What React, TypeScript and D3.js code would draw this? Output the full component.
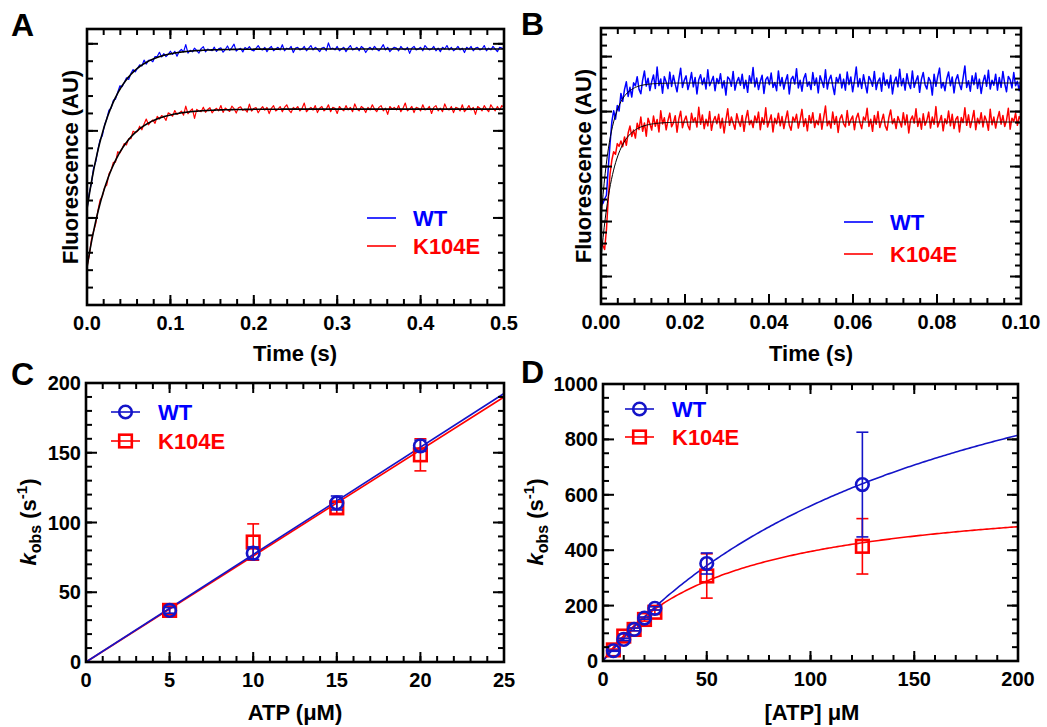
import React from "react";
import * as d3 from "d3";

const FONT = "'Liberation Sans', Arial, Helvetica, sans-serif";
const BLUE = "#0000ff";
const DBLUE = "#1414c8";
const RED = "#ff0000";

// ---- panel A: stopped-flow traces, 0-0.5 s (residuals x100 around single-exponential fits)
const aXTicks = [0, 0.1, 0.2, 0.3, 0.4, 0.5];
const aYMajor = [0, 1, 2, 3];
const aFitWT = { end: 2.94, amp: 1.84, k: 35 };
const aFitK104E = { end: 2.25, amp: 1.82, k: 33 };
const aResidWT = [
  0, 2, -1, 3, -2, 1, 2, -3, 1, 0, 3, -1, 2, -2, 1, 4, -1, 0, 2, -3,
  1, 3, -2, 0, 2, -1, 4, -2, 1, 0, -3, 2, 1, 5, -1, 2, -2, 0, 3, -1,
  2, -4, 1, 3, 0, 8, -2, 1, -1, 3, 0, -3, 2, 4, -2, 1, 0, -1, 3, -2,
  1, 2, -3, 0, 4, -1, 2, 6, -2, 0, 1, -3, 2, 0, 3, -1, -2, 1, 4, 0,
  -1, 2, -3, 1, 3, -2, 0, 2, -1, 5, -2, 1, 0, 3, -4, 1, 2, -1, 0, 3,
  -2, 1, 4, -1, 2, 0, -3, 1, 2, -2, 7, 0, 1, -1, 3, -2, 0, 2, -3, 1,
  4, -1, 0, 2, -2, 3, 1, -4, 0, 2, -1, 3, 0, -2, 1, 5, -1, 2, -3, 0,
  2, 1, -2, 3, 0, -1, 2, -5, 1, 3, -1, 0, 2, -2, 4, 1, -1, 0, 3, -2,
  1, -3, 2, 0, 4, -1, 2, -2, 0, 3, -1, 1, -4, 2, 0, 3, -2, 1, 2, -1,
  0, 4, -2, 1, -1, 3, 0, -3, 2, 1, 0,
];
const aResidK104E = [
  1, -2, 3, 0, -3, 2, 4, -1, 1, -4, 2, 0, 3, -2, 5, -1, 0, 2, -3, 1,
  -2, 4, 0, -1, 3, -3, 2, 6, -2, 0, 1, -4, 3, -1, 2, 0, -5, 3, 1, -2,
  4, -1, 0, 2, -3, 7, -2, 1, 3, -8, 2, 0, -1, 4, -2, 1, 3, -3, 0, 2,
  -1, 5, -3, 2, 0, -2, 4, 1, -4, 2, 3, -1, 0, -3, 6, -2, 1, 2, -4, 0,
  3, -1, 2, -5, 1, 4, -2, 0, 3, -3, 2, 5, -1, -4, 2, 0, 3, -2, 1, 7,
  -3, 0, 2, -1, 4, -4, 1, 3, -2, 0, 5, -3, 2, 1, -5, 3, 0, -2, 4, -1,
  2, -3, 6, 0, -2, 3, 1, -4, 2, -1, 5, 0, -3, 2, 4, -2, 1, -6, 3, 0,
  2, -1, 4, -3, 1, 7, -2, 0, 3, -4, 2, 1, -2, 5, -1, 0, 3, -5, 2, 4,
  -2, 1, -3, 6, 0, -1, 3, -4, 2, 1, -2, 5, -3, 0, 4, -1, 2, -6, 3, 1,
  -2, 4, 0, -3, 5, 1, -2, 3, -1, 4, 2,
];

// ---- panel B: same, 0-0.1 s
const bXTicks = [0, 0.02, 0.04, 0.06, 0.08, 0.1];
const bYMajor = [1, 2, 3, 4, 5];
const bFitWT = { end: 4.52, amp: 2.5, k: 420 };
const bFitK104E = { end: 3.81, amp: 2.5, k: 350 };
const bResidWT = [
  32, -11, -37, -59, -34, -9, 14, 20, -7, 8, -10, 15, -5, 12, 22, -8, 6, -14, 10, 3,
  18, -6, -15, 9, 25, -3, 11, -12, 4, 16, -9, 30, -4, 8, -18, 12, 2, -10, 20, -6,
  14, -2, -16, 7, 27, -8, 5, 13, -12, 1, 19, -7, 10, -20, 6, 15, -3, 9, -11, 24,
  -5, 3, 12, -14, 8, -1, 17, -9, 4, -22, 11, 7, -6, 21, -13, 2, 10, -4, 16, -10,
  5, -17, 13, 0, 28, -7, 9, -12, 3, 14, -19, 6, 11, -3, 18, -8, 1, -14, 22, -5,
  10, -11, 4, 15, -20, 7, 12, -2, 26, -9, 5, -15, 8, 17, -6, 2, -12, 19, -4, 9,
  -18, 13, 3, -8, 24, -11, 6, 14, -5, -21, 10, 1, 16, -9, 7, -13, 20, -3, 11, -16,
  4, 29, -7, 8, -10, 15, -2, -18, 12, 5, -6, 21, -12, 3, 9, -15, 18, -4, 6, -9,
  14, -20, 2, 11, -7, 25, -5, 8, -13, 17, -1, -10, 22, -8, 4, 13, -17, 7, 19, -3,
  -11, 10, 3, -22, 16, -6, 12, 27, -9, 1, -14, 8, 20, -5, 11, -18, 6, 15, -2, -12,
  9, 31, -8, 4, -15, 13, -3, 18, -10, 7, -19, 2, 14, -6, 23, -11, 5, -4, 16, -13,
  10, -8, 21, -1, -16, 12, 6, -9, 19, -5, 3, -14, 9,
];
const bResidK104E = [
  39, -9, -47, -37, -3, 23, 32, 33, 16, 25, 11, 13, -4, 8, -12, 6, 15, -7, 2, -15,
  10, -3, 18, -9, 5, -20, 12, 1, -11, 14, -5, 7, -16, 22, -2, 9, -13, 4, 17, -8,
  -1, 12, -18, 6, 20, -10, 3, 11, -6, -14, 16, 0, 8, -9, 27, -4, 13, -12, 5, -7,
  19, -15, 2, 10, -3, 14, -11, 7, -20, 4, 24, -6, 9, -2, -13, 15, 1, -8, 12, -17,
  6, 21, -5, 3, -10, 11, -1, 18, -14, 8, -4, 26, -9, 2, 13, -18, 7, -3, 16, -7,
  10, -12, 5, 20, -6, -15, 9, 1, 14, -11, 4, 23, -8, 6, -16, 12, -2, 17, -10, 3,
  -5, 15, -13, 8, 29, -7, 2, -11, 18, -4, 10, -19, 6, 13, -3, -9, 21, -6, 4, 11,
  -14, 7, 16, -1, -12, 9, 3, 25, -8, 5, -17, 12, -4, 19, -10, 2, 14, -7, -15, 8,
  22, -3, 6, -12, 10, 1, -9, 17, -5, 13, -20, 4, 11, -2, 24, -8, 7, -13, 15, -6,
  3, 18, -11, 9, -4, 28, -9, 1, 12, -16, 6, -3, 20, -7, 14, -12, 5, 10, -18, 8,
  -1, 26, -6, 13, -10, 4, 21, -14, 7, -3, 17, -9, 11, 2, -15, 23, -5, 9, -11, 6,
  19, -4, 12, -8, 3, 25, -13, 7, 1, 16, -6, 10, 4,
];

// ---- panel C: kobs vs ATP, linear fits
const cXTicks = [0, 5, 10, 15, 20, 25];
const cYTicks = [0, 50, 100, 150, 200];
const cATP = [5, 10, 15, 20];
const cWT = [37, 78, 114, 155];
const cWTErr = [2, 4.5, 5, 4];
const cK104E = [37, 86, 110.5, 148.5];
const cK104EErr = [3, 13, 4, 11.5];
const cSlopeWT = 7.7;
const cSlopeK104E = 7.6;

// ---- panel D: kobs vs [ATP], hyperbolic fits
const dXTicks = [0, 50, 100, 150, 200];
const dYTicks = [0, 200, 400, 600, 800, 1000];
const dATP = [5, 10, 15, 20, 25, 50, 125];
const dWT = [37, 78, 114, 155, 190, 352, 637];
const dWTErr = [2, 4, 5, 4, 6, 38, 189];
const dK104E = [40, 90, 114, 150, 176, 307, 414];
const dK104EErr = [3, 8, 5, 6, 8, 80, 100];
const dFitWT = { vmax: 1498, km: 167.6 };
const dFitK104E = { vmax: 627, km: 58.6 };

const minors = (lo: number, hi: number, step: number) =>
  d3.range(Math.ceil(lo / step - 1e-6), Math.floor(hi / step + 1e-6) + 1).map((i) => i * step);

const Frame = ({ x, y, xMajor, xMinor, yMajor, yMinor, xFmt, yFmt }: any) => {
  const [l, r] = x.range();
  const [b, t] = y.range();
  const els: any[] = [];
  const tick = (key: string, x1: number, y1: number, x2: number, y2: number) =>
    els.push(<line key={key} x1={x1} y1={y1} x2={x2} y2={y2} stroke="#000" strokeWidth={2} />);
  xMinor.forEach((v: number, i: number) => {
    const p = x(v);
    tick("xm" + i, p, b, p, b - 6);
    tick("xmt" + i, p, t, p, t + 6);
  });
  xMajor.forEach((v: number, i: number) => {
    const p = x(v);
    tick("xM" + i, p, b, p, b - 10);
    tick("xMt" + i, p, t, p, t + 10);
  });
  yMinor.forEach((v: number, i: number) => {
    const p = y(v);
    tick("ym" + i, l, p, l + 6, p);
    tick("ymr" + i, r, p, r - 6, p);
  });
  yMajor.forEach((v: number, i: number) => {
    const p = y(v);
    tick("yM" + i, l, p, l + 11, p);
    tick("yMr" + i, r, p, r - 11, p);
  });
  return (
    <g>
      {els}
      <rect x={l} y={t} width={r - l} height={b - t} fill="none" stroke="#000" strokeWidth={2.6} />
      <g fontFamily={FONT} fontWeight="bold" fontSize={20}>
        {xMajor.map((v: number) => (
          <text key={"xl" + v} x={x(v)} y={b + 25} textAnchor="middle">
            {xFmt(v)}
          </text>
        ))}
        {yFmt &&
          yMajor.map((v: number) => (
            <text key={"yl" + v} x={l - 5} y={y(v) + 7} textAnchor="end">
              {yFmt(v)}
            </text>
          ))}
      </g>
    </g>
  );
};

const Letter = ({ x, y, s }: any) => (
  <text x={x} y={y} fontFamily={FONT} fontWeight="bold" fontSize={32}>
    {s}
  </text>
);

const YTitle = ({ x, y, children }: any) => (
  <text
    transform={`translate(${x},${y}) rotate(-90)`}
    textAnchor="middle"
    fontFamily={FONT}
    fontWeight="bold"
    fontSize={22}
  >
    {children}
  </text>
);

const XTitle = ({ x, y, children }: any) => (
  <text x={x} y={y} textAnchor="middle" fontFamily={FONT} fontWeight="bold" fontSize={22}>
    {children}
  </text>
);

const Kobs = () => (
  <>
    <tspan fontStyle="italic">k</tspan>
    <tspan fontSize={16} dy={5}>obs</tspan>
    <tspan dy={-5}> (s</tspan>
    <tspan fontSize={15} dy={-9}>-1</tspan>
    <tspan dy={9}>)</tspan>
  </>
);

const expFit = (f: any) => (t: number) => f.end - f.amp * Math.exp(-f.k * t);
const traceFrom = (resid: number[], f: any, T: number) =>
  resid.map((r, i) => {
    const t = (i * T) / (resid.length - 1);
    return [t, expFit(f)(t) + r / 100];
  });

const TracePanel = ({ left, right, top, bottom, T, xTicks, xMinorStep, yMajor, yTop, yBottom, fits, resids, fmt, fitWidth, traceWidth, legend }: any) => {
  const x = d3.scaleLinear().domain([0, T]).range([left, right]);
  const y = d3.scaleLinear().domain([yBottom, yTop]).range([bottom, top]);
  const line = d3
    .line<number[]>()
    .x((d) => x(d[0]))
    .y((d) => y(d[1]));
  const grid = d3.range(0, 401).map((i) => (i * T) / 400);
  const colors = [BLUE, RED];
  return (
    <g>
      {resids.map((res: number[], i: number) => (
        <path key={"tr" + i} d={line(traceFrom(res, fits[i], T)) || ""} fill="none" stroke={colors[i]} strokeWidth={traceWidth} strokeLinejoin="round" />
      ))}
      {fits.map((f: any, i: number) => (
        <path key={"fit" + i} d={line(grid.map((t) => [t, expFit(f)(t)])) || ""} fill="none" stroke="#000" strokeWidth={fitWidth} />
      ))}
      <Frame x={x} y={y} xMajor={xTicks} xMinor={minors(0, T, xMinorStep)} yMajor={yMajor} yMinor={minors(yBottom, yTop, 0.2)} xFmt={fmt} />
      {["WT", "K104E"].map((s, i) => (
        <g key={s}>
          <line x1={legend.x} x2={legend.x + 29} y1={legend.y + i * legend.dy} y2={legend.y + i * legend.dy} stroke={colors[i]} strokeWidth={1.6} />
          <text x={legend.x + 46} y={legend.y + i * legend.dy + 8} fill={colors[i]} fontFamily={FONT} fontWeight="bold" fontSize={22}>
            {s}
          </text>
        </g>
      ))}
    </g>
  );
};

const Marker = ({ kind, cx, cy, color }: any) =>
  kind === "circle" ? (
    <circle cx={cx} cy={cy} r={6.3} fill="none" stroke={color} strokeWidth={2.6} />
  ) : (
    <rect x={cx - 6.3} y={cy - 6.3} width={12.6} height={12.6} fill="none" stroke={color} strokeWidth={2.6} />
  );

const Series = ({ x, y, xs, ys, errs, color, kind }: any) => (
  <g>
    {xs.map((v: number, i: number) => {
      const px = x(v);
      const hi = y(ys[i] + errs[i]);
      const lo = y(ys[i] - errs[i]);
      return (
        <g key={i} stroke={color} strokeWidth={1.6}>
          <line x1={px} x2={px} y1={hi} y2={lo} />
          <line x1={px - 6} x2={px + 6} y1={hi} y2={hi} />
          <line x1={px - 6} x2={px + 6} y1={lo} y2={lo} />
        </g>
      );
    })}
    {xs.map((v: number, i: number) => (
      <Marker key={"m" + i} kind={kind} cx={x(v)} cy={y(ys[i])} color={color} />
    ))}
  </g>
);

const KinLegend = ({ x, y, dy }: any) => (
  <g>
    {[
      { s: "WT", c: DBLUE, t: BLUE, k: "circle" },
      { s: "K104E", c: RED, t: RED, k: "square" },
    ].map((e, i) => (
      <g key={e.s}>
        <line x1={x} x2={x + 29} y1={y + i * dy} y2={y + i * dy} stroke={e.c} strokeWidth={1.6} />
        <Marker kind={e.k} cx={x + 14.5} cy={y + i * dy} color={e.c} />
        <text x={x + 47} y={y + i * dy + 8} fill={e.t} fontFamily={FONT} fontWeight="bold" fontSize={22}>
          {e.s}
        </text>
      </g>
    ))}
  </g>
);

const PanelC = () => {
  const x = d3.scaleLinear().domain([0, 25]).range([86, 504]);
  const y = d3.scaleLinear().domain([0, 200]).range([662, 383]);
  const fit = (m: number) => `M${x(0)},${y(0)}L${x(25)},${y(25 * m)}`;
  return (
    <g>
      <path d={fit(cSlopeK104E)} stroke={RED} strokeWidth={1.6} fill="none" />
      <path d={fit(cSlopeWT)} stroke={DBLUE} strokeWidth={1.6} fill="none" />
      <Series x={x} y={y} xs={cATP} ys={cK104E} errs={cK104EErr} color={RED} kind="square" />
      <Series x={x} y={y} xs={cATP} ys={cWT} errs={cWTErr} color={DBLUE} kind="circle" />
      <Frame x={x} y={y} xMajor={cXTicks} xMinor={minors(0, 25, 1)} yMajor={cYTicks} yMinor={minors(0, 200, 10)} xFmt={d3.format("d")} yFmt={d3.format("d")} />
      <KinLegend x={111} y={412} dy={29} />
    </g>
  );
};

const PanelD = () => {
  const x = d3.scaleLinear().domain([0, 200]).range([603, 1018]);
  const y = d3.scaleLinear().domain([0, 1000]).range([661, 384]);
  const grid = d3.range(0, 201);
  const curve = (f: any) =>
    d3
      .line<number>()
      .x((s) => x(s))
      .y((s) => y((f.vmax * s) / (f.km + s)))(grid) || "";
  return (
    <g>
      <path d={curve(dFitK104E)} stroke={RED} strokeWidth={1.6} fill="none" />
      <path d={curve(dFitWT)} stroke={DBLUE} strokeWidth={1.6} fill="none" />
      <Series x={x} y={y} xs={dATP} ys={dK104E} errs={dK104EErr} color={RED} kind="square" />
      <Series x={x} y={y} xs={dATP} ys={dWT} errs={dWTErr} color={DBLUE} kind="circle" />
      <Frame x={x} y={y} xMajor={dXTicks} xMinor={minors(0, 200, 10)} yMajor={dYTicks} yMinor={minors(0, 1000, 50)} xFmt={d3.format("d")} yFmt={d3.format("d")} />
      <KinLegend x={625} y={409} dy={28} />
    </g>
  );
};

export default function App() {
  return (
    <svg width={1047} height={727} style={{ position: "absolute", left: 0, top: 0, background: "#fff" }}>
      <rect width={1047} height={727} fill="#fff" />
      <TracePanel
        left={87} right={504} top={29} bottom={305} T={0.5}
        xTicks={aXTicks} xMinorStep={0.02} yMajor={aYMajor} yBottom={0} yTop={3.17}
        fits={[aFitWT, aFitK104E]} resids={[aResidWT, aResidK104E]}
        fmt={d3.format(".1f")} fitWidth={1.6} traceWidth={1.2}
        legend={{ x: 367, y: 218, dy: 28 }}
      />
      <TracePanel
        left={601} right={1021} top={28} bottom={304} T={0.1}
        xTicks={bXTicks} xMinorStep={0.004} yMajor={bYMajor} yBottom={0.5} yTop={5.52}
        fits={[bFitWT, bFitK104E]} resids={[bResidWT, bResidK104E]}
        fmt={d3.format(".2f")} fitWidth={1} traceWidth={1.5}
        legend={{ x: 844, y: 222, dy: 32 }}
      />
      <PanelC />
      <PanelD />

      <Letter x={11} y={36} s="A" />
      <Letter x={521} y={35} s="B" />
      <Letter x={11} y={385} s="C" />
      <Letter x={521} y={383} s="D" />

      <YTitle x={78} y={167}>Fluorescence (AU)</YTitle>
      <YTitle x={591} y={166}>Fluorescence (AU)</YTitle>
      <YTitle x={36} y={522}><Kobs /></YTitle>
      <YTitle x={543} y={522}><Kobs /></YTitle>

      <XTitle x={295} y={361}>Time (s)</XTitle>
      <XTitle x={811} y={361}>Time (s)</XTitle>
      <XTitle x={295} y={720}>ATP (μM)</XTitle>
      <XTitle x={812} y={720}>[ATP] μM</XTitle>
    </svg>
  );
}
